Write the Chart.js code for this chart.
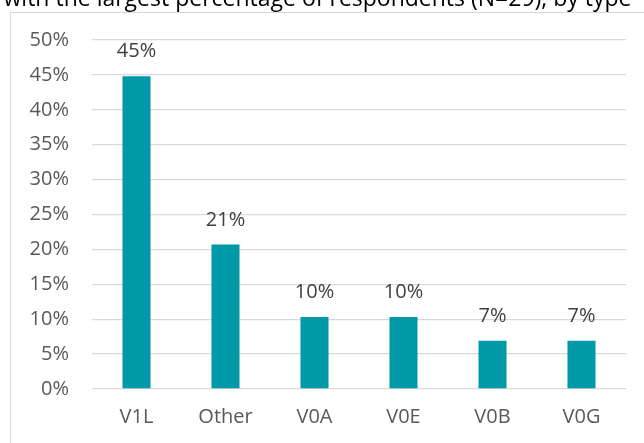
<!DOCTYPE html>
<html>
<head>
<meta charset="utf-8">
<script src="https://cdn.jsdelivr.net/npm/chart.js@4.4.0/dist/chart.umd.min.js"></script>
<style>
  html, body { margin: 0; padding: 0; background: #fff; overflow: hidden; }
  #wrap { position: relative; width: 644px; height: 443px; }
  #frame { position: absolute; left: 10px; top: 12px; width: 660px; height: 460px; border: 1px solid #d9d9d9; box-sizing: border-box; }
  canvas { position: absolute; left: 0; top: 0; }
</style>
</head>
<body>
<div id="wrap">
  <div id="frame"></div>
  <canvas id="barChart" width="644" height="443"></canvas>
</div>
<script>
// values (N=29)
const categories = ["V1L", "Other", "V0A", "V0E", "V0B", "V0G"];
const shares = [44.8, 20.7, 10.3, 10.3, 6.9, 6.9];
const shareLabels = ["45%", "21%", "10%", "10%", "7%", "7%"];
const titleText = "Types with the largest percentage of respondents (N=29), by type";

const FONT = "'Open Sans', sans-serif";

// bar value labels + the clipped title line at the top
const valueLabels = {
  id: "valueLabels",
  afterDatasetsDraw(chart) {
    const ctx = chart.ctx;
    const meta = chart.getDatasetMeta(0);
    ctx.save();
    ctx.font = "20px " + FONT;
    ctx.fillStyle = "#404040";
    ctx.textAlign = "center";
    ctx.textBaseline = "alphabetic";
    meta.data.forEach((bar, i) => {
      ctx.fillText(shareLabels[i], bar.x, bar.y - 19);
    });
    // title, mostly cut off by the top edge
    ctx.font = "23px " + FONT;
    ctx.fillStyle = "#000";
    ctx.textAlign = "left";
    const pre = titleText.slice(0, titleText.indexOf("("));
    const x0 = 471 - ctx.measureText(pre).width;
    ctx.fillText(titleText, x0, 6);
    ctx.restore();
  }
};

new Chart(document.getElementById("barChart"), {
  type: "bar",
  data: {
    labels: categories,
    datasets: [
      {
        data: shares,
        backgroundColor: "#0099a7",
        borderWidth: 0,
        categoryPercentage: 1,
        barPercentage: 0.315,
      },
    ],
  },
  options: {
    responsive: false,
    animation: false,
    layout: { padding: { left: 0, right: 18, top: 40, bottom: 0 } },
    plugins: {
      legend: { display: false },
      tooltip: { enabled: false },
    },
    scales: {
      x: {
        grid: { display: false, drawTicks: false },
        border: { display: false },
        ticks: {
          color: "#595959",
          font: { family: FONT, size: 20 },
          padding: 16,
        },
        afterFit(scale) { scale.height = 54; },
      },
      y: {
        min: 0,
        max: 50,
        grid: { color: "#d9d9d9", lineWidth: 1.3, drawTicks: false },
        border: { display: false },
        ticks: {
          stepSize: 5,
          color: "#595959",
          font: { family: FONT, size: 20 },
          padding: 23,
          callback: (v) => v + "%",
        },
        afterFit(scale) { scale.width = 92; },
      },
    },
  },
  plugins: [valueLabels],
});
</script>
</body>
</html>
